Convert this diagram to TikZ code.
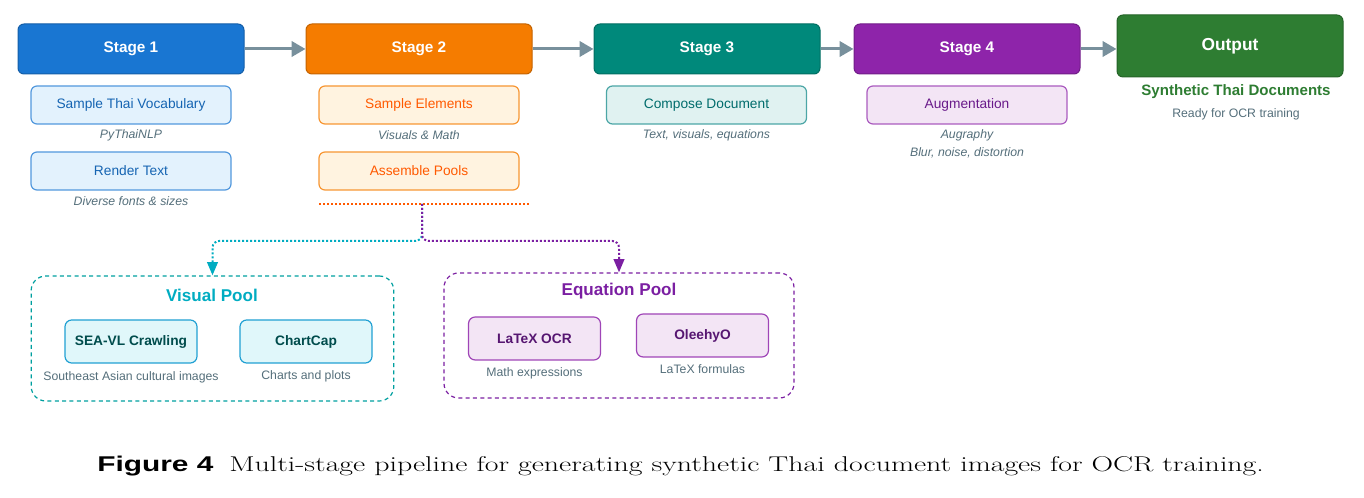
\documentclass[tikz,border=0pt]{standalone}
\usepackage{fontspec}
\setsansfont{Liberation Sans}
\usepackage{graphicx}
\usepackage{tikz}
\usetikzlibrary{arrows.meta,positioning}
\definecolor{stageblue}{HTML}{1976D2}
\definecolor{stageorange}{HTML}{F57C00}
\definecolor{stageteal}{HTML}{00897B}
\definecolor{stagepurple}{HTML}{8E24AA}
\definecolor{outgreen}{HTML}{2E7D32}
\definecolor{flowgray}{HTML}{78909C}
\definecolor{notegray}{HTML}{546E7A}
\definecolor{poolcyan}{HTML}{00ACC1}
\definecolor{poolpurple}{HTML}{7B1FA2}
\definecolor{bluefill}{HTML}{E3F2FD}
\definecolor{orangefill}{HTML}{FFF3E0}
\definecolor{tealfill}{HTML}{E0F2F1}
\definecolor{purplefill}{HTML}{F3E5F5}
\definecolor{cyanfill}{HTML}{E0F7FA}

\tikzset{
  stagebox/.style={rounded corners=4.5pt, draw=#1!80!black, fill=#1, line width=.75pt, text=white,
    font=\sffamily\bfseries\fontsize{11.5}{14}\selectfont, minimum width=169.5pt, minimum height=37.5pt},
  subbox/.style={rounded corners=4.5pt, line width=.9pt, font=\sffamily\fontsize{10.3}{12}\selectfont,
    minimum width=150pt, minimum height=28.5pt},
  note/.style={text=notegray, font=\sffamily\itshape\fontsize{9.2}{11}\selectfont, inner sep=1pt},
  plainnote/.style={text=notegray, font=\sffamily\fontsize{9.2}{11}\selectfont, inner sep=1pt},
  pooltitle/.style={text=#1, font=\sffamily\bfseries\fontsize{12.8}{15}\selectfont},
  poolbox/.style={rounded corners=11pt, draw=#1, line width=.9pt, dash pattern=on 3pt off 2.5pt,
    minimum width=272pt, minimum height=93.75pt},
  itembox/.style={rounded corners=5pt, line width=.9pt, font=\sffamily\bfseries\fontsize{10.3}{12}\selectfont,
    minimum width=99pt, minimum height=32.25pt},
  flow/.style={-{Triangle[length=10.5pt,width=11.5pt]}, line width=2.25pt, draw=flowgray},
  branch/.style={-{Triangle[length=10pt,width=8pt]}, line width=1.5pt, dash pattern=on 1.5pt off 1.5pt,
    rounded corners=5pt}
}

\begin{document}
\begin{tikzpicture}[x=.75pt,y=-.75pt]
	\useasboundingbox (0,0) rectangle (1364,498);
	
	% stages
	\node[stagebox=stageblue]   (stageone)   at (131,49) {Stage 1};
	\node[stagebox=stageorange] (stagetwo)   at (419,49) {Stage 2};
	\node[stagebox=stageteal]   (stagethree) at (707,49) {Stage 3};
	\node[stagebox=stagepurple] (stagefour)  at (967,49) {Stage 4};
	\node[stagebox=outgreen, minimum height=46.5pt, font=\sffamily\bfseries\fontsize{13}{15}\selectfont]
		(output) at (1230,46) {Output};
	
	% arrows
	\draw[flow] (stageone) -- (stagetwo);
	\draw[flow] (stagetwo) -- (stagethree);
	\draw[flow] (stagethree) -- (stagefour);
	\draw[flow] (stagefour.east) -- (stagefour.east -| output.west);
	
	% stage 1
	\node[subbox, draw=stageblue!75!white, fill=bluefill, text=stageblue!85!black] (vocab) at (131,105) {Sample Thai Vocabulary};
	\node[note] (vocabnote) at (131,135) {PyThaiNLP};
	\node[subbox, draw=stageblue!75!white, fill=bluefill, text=stageblue!85!black] (render) at (131,171) {Render Text};
	\node[note] (rendernote) at (131,201) {Diverse fonts \& sizes};
	
	% stage 2
	\node[subbox, draw=stageorange!80!white, fill=orangefill, text=orange!70!red] (elements) at (419,105) {Sample Elements};
	\node[note] (elementsnote) at (419,135) {Visuals \& Math};
	\node[subbox, draw=stageorange!80!white, fill=orangefill, text=orange!70!red] (assemble) at (419,171) {Assemble Pools};
	\coordinate (splitleft) at (319,204);
	\coordinate (splitright) at (530,204);
	\coordinate (split) at (422,204);
	\draw[orange!70!red, line width=1.5pt, dash pattern=on 1.5pt off 1.5pt] (splitleft) -- (splitright);
	
	% stage 3
	\node[subbox, draw=teal!70!white, fill=tealfill, text=teal!85!black] (compose) at (706.5,105) {Compose Document};
	\node[note] (composenote) at (706.5,135) {Text, visuals, equations};
	
	% stage 4
	\node[subbox, draw=stagepurple!75!white, fill=purplefill, text=poolpurple!85!black] (augment) at (967,105) {Augmentation};
	\node[note] (augmentnote) at (967,135) {Augraphy};
	\node[note] (augmentnotetwo) at (967,153) {Blur, noise, distortion};
	
	% output
	\node[text=outgreen, font=\sffamily\bfseries\fontsize{11.3}{13}\selectfont] (synth) at (1236,92) {Synthetic Thai Documents};
	\node[plainnote] (ready) at (1236,114) {Ready for OCR training};
	
	% pools
	\node[poolbox=teal!75!cyan] (vpool) at (212.5,338.5) {};
	\node[pooltitle=poolcyan] (vtitle) at (212,295) {Visual Pool};
	\node[itembox, draw=cyan!70!teal, fill=cyanfill, text=teal!60!black] (seavl) at (131,341.5) {SEA-VL Crawling};
	\node[plainnote] (seavlnote) at (131,377) {Southeast Asian cultural images};
	\node[itembox, draw=cyan!70!teal, fill=cyanfill, text=teal!60!black] (chartcap) at (306,341.5) {ChartCap};
	\node[plainnote] (chartcapnote) at (306,376) {Charts and plots};
	
	\node[poolbox=poolpurple, minimum width=262.5pt] (epool) at (619,335.5) {};
	\node[pooltitle=poolpurple] (etitle) at (619,291) {Equation Pool};
	\node[itembox, draw=stagepurple!85!white, fill=purplefill, text=poolpurple!70!black] (latexocr) at (534.5,338.5) {LaTeX OCR};
	\node[plainnote] (latexocrnote) at (534.5,373) {Math expressions};
	\node[itembox, draw=stagepurple!85!white, fill=purplefill, text=poolpurple!70!black] (oleehyo) at (702.5,335.5) {OleehyO};
	\node[plainnote] (oleehyonote) at (702.5,369) {LaTeX formulas};
	
	% branches
	\draw[branch, poolcyan] (split) -- (422,241) -- (vpool.north |- 0,241) -- (vpool.north);
	\draw[branch, poolpurple] (split) -- (422,241) -- (epool.north |- 0,241) -- (epool.north);
	
	% caption
	\node[anchor=west, inner sep=0pt, font=\fontsize{16}{19}\selectfont] (caption) at (97,466)
		{\scalebox{1.4}[1]{{\sffamily\bfseries Figure 4}\hspace{8.5pt}Multi-stage pipeline for generating synthetic Thai document images for OCR training.}};
\end{tikzpicture}
\end{document}
